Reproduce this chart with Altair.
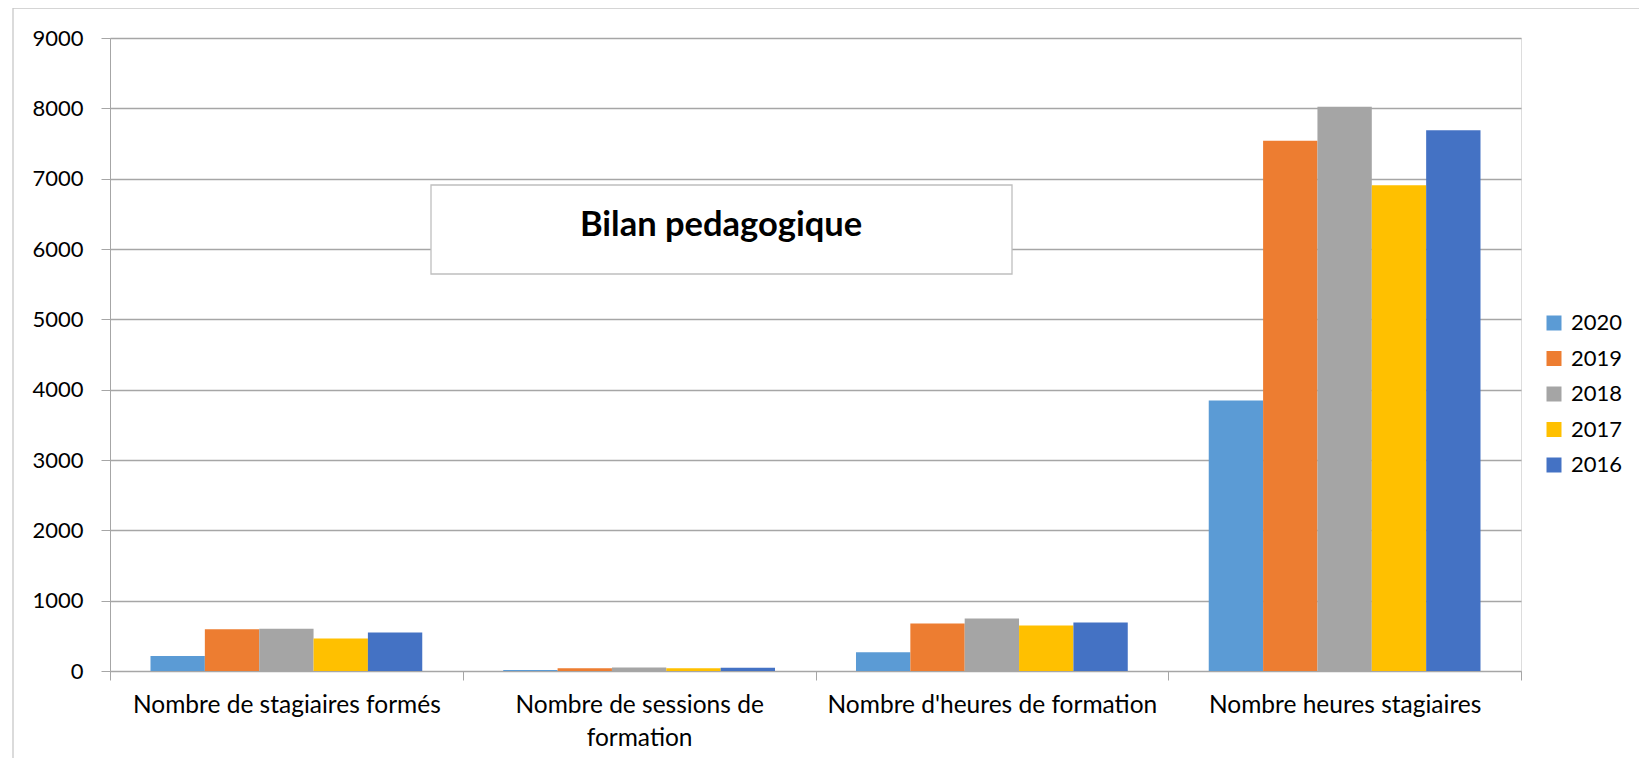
import altair as alt
import pandas as pd

categories = [
    "Nombre de stagiaires formés",
    "Nombre de sessions de formation",
    "Nombre d'heures de formation",
    "Nombre heures stagiaires",
]
years = ["2020", "2019", "2018", "2017", "2016"]
colors = ["#5B9BD5", "#ED7D31", "#A5A5A5", "#FFC000", "#4472C4"]

v2020 = [215, 15, 265, 3845]
v2019 = [595, 40, 675, 7540]
v2018 = [600, 50, 748, 8022]
v2017 = [462, 40, 647, 6905]
v2016 = [548, 45, 690, 7688]

y_ticks = [0, 1000, 2000, 3000, 4000, 5000, 6000, 7000, 8000, 9000]
title_text = "Bilan pedagogique"
wrapped = {"Nombre de sessions de formation": ["Nombre de sessions de", "formation"]}

series = dict(zip(years, [v2020, v2019, v2018, v2017, v2016]))
rows = []
for yr in years:
    for c, v in zip(categories, series[yr]):
        rows.append({"category": c, "year": yr, "value": v})
df = pd.DataFrame(rows)

label_expr = "datum.value"
for k, parts in wrapped.items():
    arr = "[" + ",".join("'" + p + "'" for p in parts) + "]"
    label_expr = f"datum.value == \"{k}\" ? {arr} : " + label_expr

FONT = "Lato"
GRID = "#A6A6A6"

bars = alt.Chart(df).mark_bar().encode(
    x=alt.X(
        "category:N",
        sort=categories,
        scale=alt.Scale(paddingInner=0, paddingOuter=0),
        axis=alt.Axis(
            title=None,
            labelAngle=0,
            tickBand="extent",
            ticks=True,
            tickSize=9,
            tickColor=GRID,
            domain=True,
            domainColor=GRID,
            labelFont=FONT,
            labelFontSize=24.5,
            labelColor="#000000",
            labelPadding=13,
            labelLineHeight=33,
            labelLimit=400,
            labelExpr=label_expr,
        ),
    ),
    xOffset=alt.XOffset(
        "year:N", sort=years, scale=alt.Scale(paddingInner=0, paddingOuter=0.745)
    ),
    y=alt.Y(
        "value:Q",
        scale=alt.Scale(domain=[0, 9000], nice=False),
        axis=alt.Axis(
            title=None,
            values=y_ticks,
            format="d",
            grid=True,
            gridColor=GRID,
            gridWidth=1.3,
            domain=True,
            domainColor=GRID,
            ticks=True,
            tickSize=9,
            tickColor=GRID,
            labelFont=FONT,
            labelFontSize=22,
            labelColor="#000000",
            labelPadding=18,
        ),
    ),
    color=alt.Color(
        "year:N",
        sort=years,
        scale=alt.Scale(domain=years, range=colors),
        legend=alt.Legend(
            title=None,
            orient="none",
            legendX=1433,
            legendY=274,
            symbolType="square",
            symbolSize=225,
            symbolStrokeWidth=0,
            labelFont=FONT,
            labelFontSize=22,
            labelColor="#000000",
            rowPadding=13.5,
            labelOffset=6,
        ),
    ),
)

box = alt.Chart(alt.Data(values=[{"t": title_text}])).mark_rect(
    fill="white", stroke="#BFBFBF", strokeWidth=1.3
).encode(
    x=alt.value(321), x2=alt.value(902), y=alt.value(147), y2=alt.value(236)
)

title = alt.Chart(alt.Data(values=[{"t": title_text}])).mark_text(
    font=FONT, fontSize=34.5, fontWeight="bold", color="#000000", baseline="middle", align="center"
).encode(
    x=alt.value(611), y=alt.value(188), text="t:N"
)

frame = alt.Chart(alt.Data(values=[{"t": title_text}])).mark_rect(
    fill=None, stroke="#C8C8C8", strokeWidth=1.3
).encode(
    x=alt.value(-97), x2=alt.value(1700), y=alt.value(-30), y2=alt.value(900)
)

chart = alt.layer(frame, bars, box, title).properties(
    width=1411,
    height=633,
    autosize=alt.AutoSizeParams(type="none"),
    padding={"left": 102, "top": 30, "right": 118, "bottom": 87},
).configure_view(stroke=None).configure(background="white")

chart.save("out.html", embed_options={"renderer": "svg", "actions": False})
